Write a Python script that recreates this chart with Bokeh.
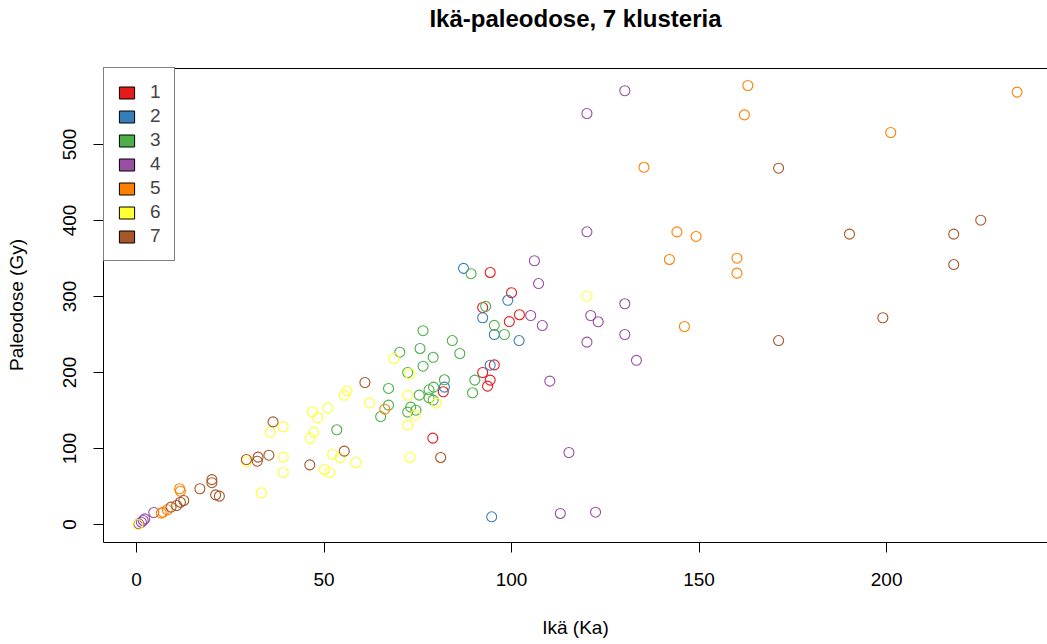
from bokeh.plotting import figure
from bokeh.models import (LinearAxis, FixedTicker, Span, Legend, LegendItem,
                          Range1d, Title)
from bokeh.embed import file_html
from bokeh.resources import INLINE

# ---- data ----
clusters = ["1", "2", "3", "4", "5", "6", "7"]
colors = ["#E41A1C", "#377EB8", "#4DAF4A", "#984EA3", "#FF7F00", "#FFFF33", "#A65628"]

c1_x = [94.3, 100.0, 92.3, 102.1, 99.4, 95.4, 92.3, 94.3, 93.6, 81.8, 79.0]
c1_y = [331.6, 305, 285.5, 276, 267, 210, 200, 190, 182, 174.6, 113.6]

c2_x = [87.2, 99.0, 92.3, 95.4, 102.0, 94.3, 82.1, 94.7]
c2_y = [337, 295, 272, 250, 242, 209.6, 180.7, 10.1]

c3_x = [89.2, 93.1, 95.4, 98.1, 76.4, 84.2, 86.2, 70.2, 75.6, 79.1, 76.4, 72.3, 82.1, 90.2,
        67.2, 79.2, 78.0, 75.4, 78.0, 79.1, 89.6, 67.2, 65.1, 73.1, 74.5, 72.3, 53.4]
c3_y = [330, 287, 262, 250, 255, 242, 225, 226.7, 231.6, 220, 208.3, 200, 190.4, 190,
        179, 180.7, 177.2, 170.2, 166.7, 163.6, 173.3, 157, 142, 154.4, 150.4, 147.8, 124.6]

c4_x = [130.2, 120.1, 120.1, 106.1, 107.2, 130.2, 105.1, 121.1, 123.1, 108.2, 120.1, 130.2,
        133.3, 110.2, 115.3, 113.0, 122.4, 4.6, 2.2, 1.8, 1.3, 0.6]
c4_y = [570.7, 540.8, 385.1, 347, 317, 290.4, 275, 275, 266.7, 261.8, 239.9, 250,
        216, 188.6, 94.7, 14.5, 16.2, 15.8, 7.4, 5.3, 3.0, 0.9]

c5_x = [163.0, 162.1, 135.3, 144.1, 149.2, 142.1, 160.1, 160.1, 146.1, 234.8, 201.1, 66.2,
        11.5, 11.7, 8.2, 7.1, 6.6]
c5_y = [577.6, 539, 470, 385, 379, 348.7, 350.4, 330.7, 260.5, 568.9, 515.8, 151.7,
        47, 43.8, 19.3, 16.2, 14.9]

c6_x = [120.1, 68.6, 72.9, 56.1, 55.4, 72.3, 80.0, 62.1, 74.3, 72.3, 51.0, 46.9, 48.3, 47.2,
        46.3, 52.3, 54.3, 58.5, 72.9, 50.1, 51.5, 39.1, 35.7, 39.1, 29.3, 39.1, 33.3, 0.4]
c6_y = [300.4, 218.4, 198.3, 175.9, 170.2, 170.2, 159.6, 160, 143.9, 130.7, 153.5, 148.3, 140.4, 121.5,
        113.6, 92.1, 88.2, 81.6, 88.2, 72.4, 68.4, 128.5, 121.5, 88.6, 82.5, 68.4, 41.7, 0.0]

c7_x = [171.2, 225.1, 190.1, 217.9, 217.9, 199.0, 171.2, 60.9, 55.4, 81.1, 46.2, 36.4, 35.3,
        32.4, 32.2, 29.3, 20.1, 20.1, 16.9, 21.1, 22.1, 12.6, 11.7, 10.7, 9.2]
c7_y = [468.8, 400.4, 382, 382, 342, 272, 242, 186.8, 96.5, 88.2, 78.5, 135, 91.2,
        88.6, 83.3, 85.5, 59, 55, 47, 39, 37.3, 31.6, 29.3, 25, 22.8]

x_ticks = [0, 50, 100, 150, 200]
y_ticks = [0, 100, 200, 300, 400, 500]

title_text = "Ikä-paleodose, 7 klusteria"
x_label = "Ikä (Ka)"
y_label = "Paleodose (Gy)"

FONT = "Liberation Sans"
FS = "19px"

xs = [c1_x, c2_x, c3_x, c4_x, c5_x, c6_x, c7_x]
ys = [c1_y, c2_y, c3_y, c4_y, c5_y, c6_y, c7_y]

# frame: x 103..1047, y 67..542 ; y range extended by ~1px above so the top box line shows
p = figure(width=1047, height=644,
           x_range=Range1d(-8.8, 242.9), y_range=Range1d(-23.7, 601.3),
           output_backend="svg", toolbar_location=None, title=None,
           x_axis_type=None, y_axis_type=None,
           min_border_left=103, min_border_right=0,
           min_border_top=67, min_border_bottom=102)
p.outline_line_color = None
p.background_fill_color = "white"
p.border_fill_color = "white"

# invisible spacer (nearest the frame) that lifts the real title towards the top
p.add_layout(Title(text=" ", text_font_size="1px", standoff=33), "above")
p.add_layout(Title(text=title_text, align="center", vertical_align="bottom",
                   text_font=FONT, text_font_size="24px", text_font_style="bold",
                   text_color="black", standoff=0), "above")

def style_axis(ax):
    ax.axis_line_color = "black"
    ax.axis_line_width = 1
    ax.major_tick_line_color = "black"
    ax.major_tick_out = 10
    ax.major_tick_in = 0
    ax.minor_tick_out = 0
    ax.minor_tick_in = 0
    ax.major_label_text_font = FONT
    ax.major_label_text_font_size = FS
    ax.major_label_text_color = "black"
    ax.axis_label_text_font = FONT
    ax.axis_label_text_font_size = FS
    ax.axis_label_text_font_style = "normal"
    ax.axis_label_text_color = "black"

xaxis = LinearAxis(ticker=FixedTicker(ticks=x_ticks), axis_label=x_label)
style_axis(xaxis)
xaxis.major_label_standoff = 20
xaxis.axis_label_standoff = 28
p.add_layout(xaxis, "below")

yaxis = LinearAxis(ticker=FixedTicker(ticks=y_ticks), axis_label=y_label)
style_axis(yaxis)
yaxis.major_label_orientation = "vertical"
yaxis.major_label_standoff = 17
yaxis.axis_label_standoff = 34
p.add_layout(yaxis, "left")

# top edge of the box
p.add_layout(Span(location=600, dimension="width", line_color="black", line_width=1))

for cx, cy, col in zip(xs, ys, colors):
    p.scatter(cx, cy, marker="circle", size=10, fill_color=None,
              line_color=col, line_width=1.1)

items = []
for name, col in zip(clusters, colors):
    # a single quad far outside the visible ranges, only for the legend swatch
    r = p.quad(left=[-1000], right=[-999], top=[-1000], bottom=[-1001],
               fill_color=col, line_color="black", line_width=1)
    items.append(LegendItem(label=name, renderers=[r]))

legend = Legend(items=items, location="top_left", margin=0, padding=13,
                spacing=2, glyph_width=19, glyph_height=15, label_standoff=14,
                label_width=10,
                label_text_font=FONT, label_text_font_size=FS,
                border_line_color="black", border_line_width=1,
                background_fill_color="white", background_fill_alpha=1.0)
p.add_layout(legend, "center")

open("out.html", "w").write(file_html(p, INLINE))
